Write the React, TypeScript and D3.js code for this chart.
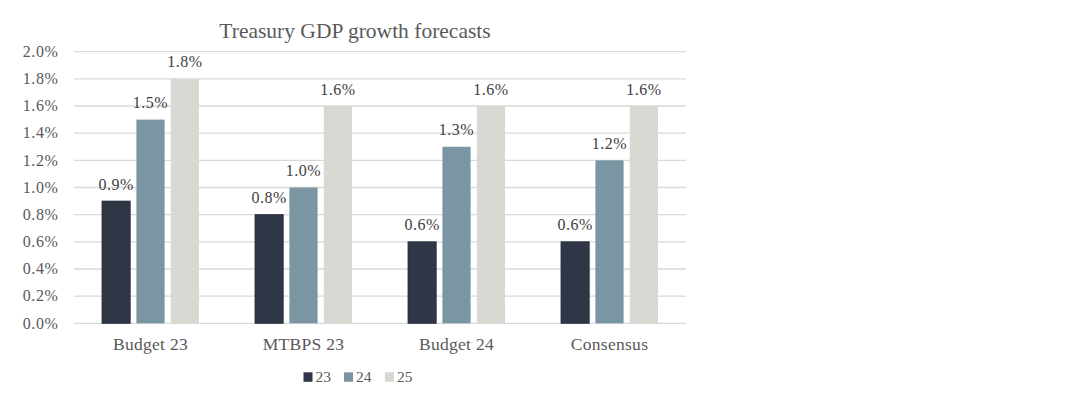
import React from "react";
import * as d3 from "d3";

const categories = ["Budget 23", "MTBPS 23", "Budget 24", "Consensus"];
const seriesNames = ["23", "24", "25"];
const values23 = [0.9, 0.8, 0.6, 0.6];
const values24 = [1.5, 1.0, 1.3, 1.2];
const values25 = [1.8, 1.6, 1.6, 1.6];
const yTicks = [0, 0.2, 0.4, 0.6, 0.8, 1.0, 1.2, 1.4, 1.6, 1.8, 2.0];
const colors = ["#2f3747", "#7b96a3", "#d9d8d3"];
const title = "Treasury GDP growth forecasts";

const W = 1088;
const H = 400;
const FONT = "'Liberation Serif', 'Times New Roman', serif";

export default function App() {
  const series = [values23, values24, values25];
  const x0 = d3.scaleBand<string>().domain(categories).range([74, 686]).paddingInner(0).paddingOuter(0);
  const x1 = d3
    .scaleBand<string>()
    .domain(seriesNames)
    .range([x0.bandwidth() / 2 - 48.5, x0.bandwidth() / 2 + 48.5])
    .paddingInner(0.18)
    .paddingOuter(0);
  const y = d3.scaleLinear().domain([0, 2]).range([323.3, 51.7]);

  const legendX = [303.5, 344, 385];

  return (
    <svg width={W} height={H} style={{ position: "absolute", left: 0, top: 0, background: "#fff" }} fontFamily={FONT}>
      <rect x={0} y={0} width={W} height={H} fill="#fff" />
      <text x={355} y={38.3} textAnchor="middle" fontSize={21.5} fill="#595959">
        {title}
      </text>
      {yTicks.map((t) => (
        <g key={t}>
          <line x1={74} x2={686} y1={y(t)} y2={y(t)} stroke="#d9d9d9" strokeWidth={1.3} />
          <text x={58.5} y={y(t) + 5.2} textAnchor="end" fontSize={16} letterSpacing={0.6} fill="#595959">
            {d3.format(".1f")(t) + "%"}
          </text>
        </g>
      ))}
      {categories.map((c, i) => (
        <g key={c} transform={`translate(${x0(c)},0)`}>
          {series.map((vals, s) => {
            const bx = x1(seriesNames[s])!;
            const v = vals[i];
            return (
              <g key={s}>
                <rect
                  x={bx}
                  y={y(v)}
                  width={x1.bandwidth()}
                  height={y(0) - y(v)}
                  fill={colors[s]}
                  stroke={s === 0 ? "#232a38" : "none"}
                  strokeWidth={0.8}
                />
                <text
                  x={bx + x1.bandwidth() / 2}
                  y={y(v) - 11.5}
                  textAnchor="middle"
                  fontSize={16}
                  letterSpacing={0.5}
                  fill="#404040"
                >
                  {d3.format(".1f")(v) + "%"}
                </text>
              </g>
            );
          })}
          <text x={x0.bandwidth() / 2} y={349.8} textAnchor="middle" fontSize={17.5} letterSpacing={0.3} fill="#595959">
            {c}
          </text>
        </g>
      ))}
      {seriesNames.map((n, s) => (
        <g key={n}>
          <rect x={legendX[s]} y={372.3} width={9} height={9.5} fill={colors[s]} />
          <text x={legendX[s] + 12} y={382.3} fontSize={15.5} fill="#595959">
            {n}
          </text>
        </g>
      ))}
    </svg>
  );
}
